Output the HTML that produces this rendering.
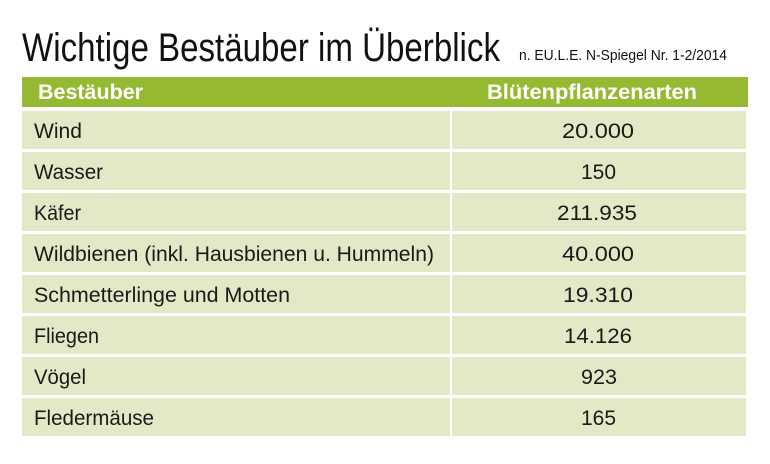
<!DOCTYPE html>
<html><head><meta charset="utf-8"><style>
html,body{margin:0;padding:0;background:#fff;width:770px;height:464px;overflow:hidden}
</style></head><body>
<svg width="770" height="464" xmlns="http://www.w3.org/2000/svg" font-family="'Liberation Sans', sans-serif">
<rect width="770" height="464" fill="#fff"/>
<text x="22" y="61" font-size="40" fill="#111" textLength="478" lengthAdjust="spacingAndGlyphs">Wichtige Bestäuber im Überblick</text>
<text x="519" y="60" font-size="15" fill="#111" textLength="208" lengthAdjust="spacingAndGlyphs">n. EU.L.E. N-Spiegel Nr. 1-2/2014</text>
<rect x="22" y="77" width="726" height="30" fill="#96b932"/>
<text x="38" y="99" font-size="21" font-weight="bold" fill="#fff" textLength="105" lengthAdjust="spacingAndGlyphs">Bestäuber</text>
<text x="487" y="99" font-size="21" font-weight="bold" fill="#fff" textLength="210" lengthAdjust="spacingAndGlyphs">Blütenpflanzenarten</text>
<g fill="#e2e9c6">
<rect x="22" y="111" width="428" height="38"/><rect x="452" y="111" width="294" height="38"/>
<rect x="22" y="152" width="428" height="38"/><rect x="452" y="152" width="294" height="38"/>
<rect x="22" y="193" width="428" height="38"/><rect x="452" y="193" width="294" height="38"/>
<rect x="22" y="234" width="428" height="38"/><rect x="452" y="234" width="294" height="38"/>
<rect x="22" y="275" width="428" height="38"/><rect x="452" y="275" width="294" height="38"/>
<rect x="22" y="316" width="428" height="38"/><rect x="452" y="316" width="294" height="38"/>
<rect x="22" y="357" width="428" height="38"/><rect x="452" y="357" width="294" height="38"/>
<rect x="22" y="398" width="428" height="38"/><rect x="452" y="398" width="294" height="38"/>
</g>
<g font-size="21" fill="#1a1a1a" lengthAdjust="spacingAndGlyphs">
<text x="34" y="138" textLength="48" lengthAdjust="spacingAndGlyphs">Wind</text>
<text x="34" y="179" textLength="69" lengthAdjust="spacingAndGlyphs">Wasser</text>
<text x="34" y="220" textLength="47" lengthAdjust="spacingAndGlyphs">Käfer</text>
<text x="34" y="261" textLength="400" lengthAdjust="spacingAndGlyphs">Wildbienen (inkl. Hausbienen u. Hummeln)</text>
<text x="34" y="302" textLength="256" lengthAdjust="spacingAndGlyphs">Schmetterlinge und Motten</text>
<text x="34" y="343" textLength="65" lengthAdjust="spacingAndGlyphs">Fliegen</text>
<text x="34" y="384" textLength="52" lengthAdjust="spacingAndGlyphs">Vögel</text>
<text x="34" y="425" textLength="120" lengthAdjust="spacingAndGlyphs">Fledermäuse</text>
<text x="562" y="138" textLength="72" lengthAdjust="spacingAndGlyphs">20.000</text>
<text x="581" y="179" textLength="35" lengthAdjust="spacingAndGlyphs">150</text>
<text x="557" y="220" textLength="80" lengthAdjust="spacingAndGlyphs">211.935</text>
<text x="562" y="261" textLength="72" lengthAdjust="spacingAndGlyphs">40.000</text>
<text x="563" y="302" textLength="70" lengthAdjust="spacingAndGlyphs">19.310</text>
<text x="564" y="343" textLength="68" lengthAdjust="spacingAndGlyphs">14.126</text>
<text x="581" y="384" textLength="36" lengthAdjust="spacingAndGlyphs">923</text>
<text x="581" y="425" textLength="35" lengthAdjust="spacingAndGlyphs">165</text>
</g>
</svg>
</body></html>
